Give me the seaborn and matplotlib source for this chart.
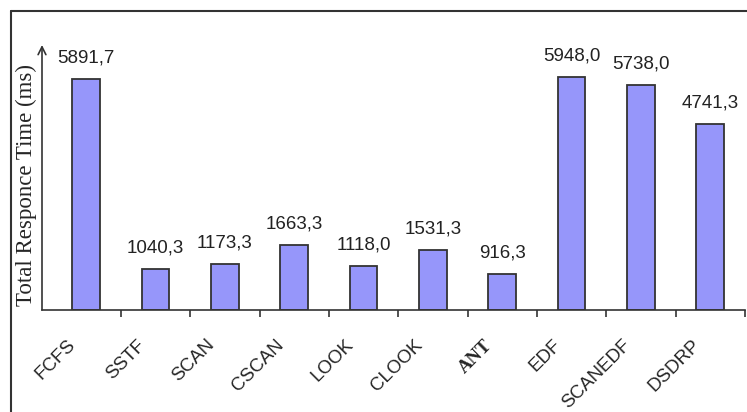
import matplotlib
matplotlib.use("Agg")
import matplotlib.pyplot as plt
import matplotlib.transforms as mtransforms
from matplotlib.lines import Line2D
import seaborn as sns
import pandas as pd

categories = ["FCFS", "SSTF", "SCAN", "CSCAN", "LOOK", "CLOOK", "ANT", "EDF", "SCANEDF", "DSDRP"]
values = [5891.7, 1040.3, 1173.3, 1663.3, 1118.0, 1531.3, 916.3, 5948.0, 5738.0, 4741.3]
ylabel = "Total Responce Time (ms)"

df = pd.DataFrame({"cat": categories, "val": values})

sns.set_style("white")
plt.rcParams["font.family"] = ["Liberation Sans", "DejaVu Sans"]

W, H = 747, 412
fig = plt.figure(figsize=(W / 100, H / 100), dpi=100)
ax = fig.add_axes([42 / W, (H - 310) / H, (745 - 42) / W, (310 - 45) / H])

sns.barplot(data=df, x="cat", y="val", ax=ax, color="#9696FA", width=0.4,
            edgecolor="#333333", linewidth=1.3, saturation=1)

ax.set_ylim(0, 6760)
ax.set_xlim(-0.5 - 9.5 / 69.4, 9.5)
ax.set_xlabel("")
ax.set_ylabel(ylabel, family=["Liberation Serif"], fontsize=16.5)
ax.yaxis.set_label_coords(-5 / 703, 0.47)
ax.set_yticks([])

ax.set_xticks(range(len(categories)))
ax.set_xticklabels(categories, rotation=45, ha="right", va="top", fontsize=13.5)
ax.tick_params(axis="x", which="major", length=0, pad=19)
ax.set_xticks([i + 0.5 for i in range(len(categories))], minor=True)
ax.tick_params(axis="x", which="minor", bottom=True, length=5, width=1.2,
               color="#333333", direction="out")

offset = mtransforms.ScaledTranslation(-7 / 100, 0, fig.dpi_scale_trans)
for lab in ax.get_xticklabels():
    lab.set_transform(lab.get_transform() + offset)
    if lab.get_text() == "ANT":
        lab.set_family(["Liberation Serif"])
        lab.set_fontweight("bold")

labels = [f"{v:.1f}".replace(".", ",") for v in values]
ax.bar_label(ax.containers[0], labels=labels, padding=9, fontsize=13.5, color="#222222")

for s in ["top", "right", "left"]:
    ax.spines[s].set_visible(False)
ax.spines["bottom"].set_color("#333333")
ax.spines["bottom"].set_linewidth(1.2)

ax.annotate("", xy=(0, 1.0), xycoords="axes fraction", xytext=(0, 0),
            textcoords="axes fraction",
            arrowprops=dict(arrowstyle="->", color="#333333", lw=1.2,
                            shrinkA=0, shrinkB=0, mutation_scale=14))

# outer frame (top and left edges)
fig.add_artist(Line2D([11 / W, 1], [1 - 11 / H, 1 - 11 / H], color="#333333", lw=1.5,
                      transform=fig.transFigure))
fig.add_artist(Line2D([11 / W, 11 / W], [0, 1 - 11 / H], color="#333333", lw=1.5,
                      transform=fig.transFigure))

fig.savefig("out.png", dpi=100)
